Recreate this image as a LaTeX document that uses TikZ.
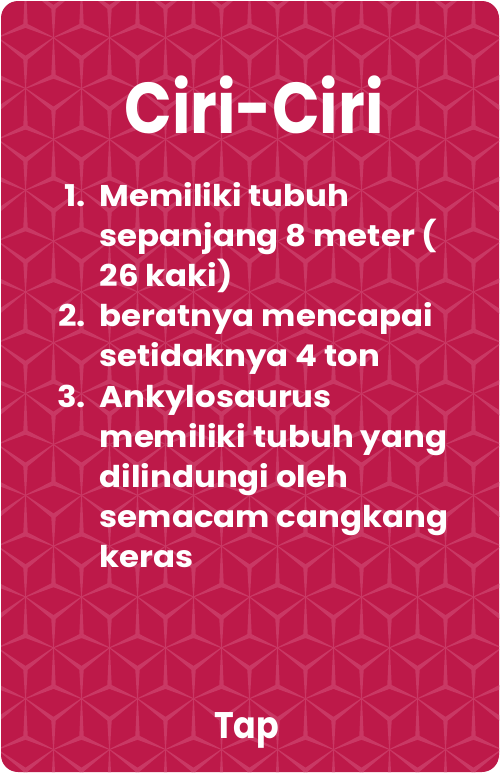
\documentclass[tikz,border=0pt]{standalone}
\usepackage{fontspec}
\setmainfont{Poppins}
\usetikzlibrary{calc}
\definecolor{cardbg}{RGB}{189,25,73}
\definecolor{pat}{RGB}{201,56,100}
\newcommand{\wdg}[2]{\fill[pat] ($(#1)!2.3pt!90:(#2)$) -- ($(#2)!0.4pt!-90:(#1)$) -- ($(#2)!0.4pt!90:(#1)$) -- ($(#1)!2.3pt!-90:(#2)$) -- cycle;}
\newcommand{\bodyline}[1]{\scalebox{1.08}[1]{#1}}
\tikzset{
  body/.style={text=white, inner sep=0pt, font=\fontsize{30}{30}\selectfont\bfseries},
  titletext/.style={text=white, inner sep=0pt, anchor=base, font=\fontsize{72}{72}\selectfont\bfseries},
  taptext/.style={text=white, inner sep=0pt, anchor=base, font=\fontsize{37}{37}\selectfont\bfseries}
}
\begin{document}
\begin{tikzpicture}[x=1pt,y=-1pt]
\useasboundingbox (0,0) rectangle (500,774);
\fill[white] (0,0) rectangle (500,774);
\begin{scope}
\path[clip, rounded corners=17pt] (1,1) rectangle (499,772);
\fill[cardbg] (0,0) rectangle (500,774);
\foreach \r in {-1,...,16}{
  \foreach \k in {-1,...,9}{
    \pgfmathsetmacro\xc{53.5-28*mod(\r+2,2)+56*\k}
    \pgfmathsetmacro\yc{7.6+50.85*\r}
    \coordinate (C) at (\xc,\yc);
    \coordinate (UL) at (\xc-28,\yc-20.85);
    \coordinate (UR) at (\xc+28,\yc-20.85);
    \coordinate (B) at (\xc,\yc+30);
    \coordinate (LL) at (\xc-28,\yc+17.85);
    \coordinate (LR) at (\xc+28,\yc+17.85);
    \wdg{C}{UL}\wdg{C}{UR}\wdg{C}{B}\wdg{LL}{B}\wdg{LR}{B}\wdg{LR}{UR}
  }
}
\end{scope}
\node[titletext] (title) at (254,133) {\scalebox{0.87}[1]{Ciri-Ciri}};
\node[body, anchor=base east] (n1) at (86,206) {\bodyline{1.}};
\node[body, anchor=base west] (l1) at (99.5,206) {\bodyline{Memiliki tubuh}};
\node[body, anchor=base west] (l2) at (99.5,246.2) {\bodyline{sepanjang 8 meter (}};
\node[body, anchor=base west] (l3) at (99.5,286.4) {\bodyline{26 kaki)}};
\node[body, anchor=base east] (n2) at (86,326.6) {\bodyline{2.}};
\node[body, anchor=base west] (l4) at (99.5,326.6) {\bodyline{beratnya mencapai}};
\node[body, anchor=base west] (l5) at (99.5,366.8) {\bodyline{setidaknya 4 ton}};
\node[body, anchor=base east] (n3) at (86,407) {\bodyline{3.}};
\node[body, anchor=base west] (l6) at (99.5,407) {\bodyline{Ankylosaurus}};
\node[body, anchor=base west] (l7) at (99.5,447.2) {\bodyline{memiliki tubuh yang}};
\node[body, anchor=base west] (l8) at (99.5,487.4) {\bodyline{dilindungi oleh}};
\node[body, anchor=base west] (l9) at (99.5,527.6) {\bodyline{semacam cangkang}};
\node[body, anchor=base west] (l10) at (99.5,567.8) {\bodyline{keras}};
\node[taptext] (tap) at (246.5,738) {\scalebox{0.9}[1]{Tap}};
\end{tikzpicture}
\end{document}
